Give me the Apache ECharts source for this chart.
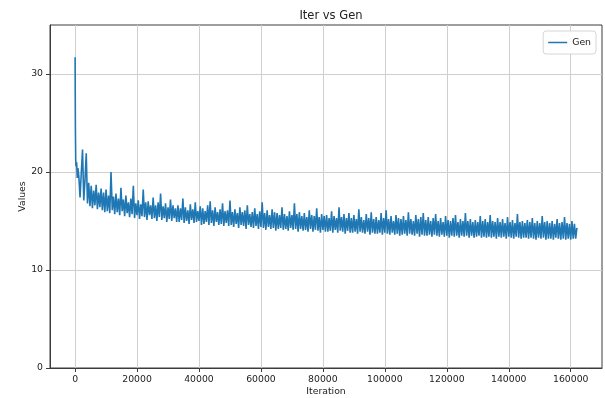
<!DOCTYPE html>
<html>
<head>
<meta charset="utf-8">
<script src="https://cdn.jsdelivr.net/npm/echarts@6/dist/echarts.min.js"></script>
<style>
html,body{margin:0;padding:0;background:#fff;}
#chart{width:605px;height:398px;}
</style>
</head>
<body>
<div id="chart"></div>
<script>
// ---- data ----
const titleText = 'Iter vs Gen';
const seriesName = 'Gen';
const xAxisName = 'Iteration';
const yAxisName = 'Values';
const xTicks = [0, 20000, 40000, 60000, 80000, 100000, 120000, 140000, 160000];
const yTicks = [0, 10, 20, 30];

// first iterations (explicit)
const earlyIters = [0, 100, 200, 300, 500, 700, 900];
const earlyGen = [31.7, 24.4, 21.3, 20.6, 21.0, 19.4, 20.4];

// remaining iterations, logged every 400 from 1200
const mainStart = 1200;
const mainStep = 400;
const mainGen = [
  19.6,17.4,19.9,22.3,17.1,19.2,21.9,16.8,18.9,16.5,18.6,16.3,18.1,16.6,18.7,16.2,17.9,16.4,18.3,16.1,
  17.9,15.9,18.2,16.0,17.6,15.8,20.0,16.1,17.5,15.7,17.8,15.9,17.3,15.6,18.4,16.0,17.2,15.5,17.6,15.8,
  16.9,15.4,17.3,15.7,18.6,15.3,16.8,15.6,17.1,15.2,16.7,15.5,18.2,15.4,16.9,15.1,17.0,15.6,16.6,15.2,
  17.4,15.3,16.6,15.0,16.9,15.4,17.8,15.1,16.5,15.3,16.8,14.9,16.4,15.2,17.2,15.0,16.6,15.3,16.3,14.9,
  16.6,14.9,16.3,15.1,17.3,14.8,16.4,15.0,16.1,14.7,16.7,15.1,16.2,14.8,16.9,14.9,16.0,15.0,16.5,14.6,
  16.3,14.7,16.0,14.9,16.6,14.6,17.0,14.8,16.1,14.5,16.4,14.9,15.9,14.6,16.2,14.7,16.8,14.5,16.0,14.8,
  16.1,14.5,17.1,14.6,15.9,14.4,16.2,14.7,15.8,14.3,16.4,14.6,15.9,14.5,16.1,14.2,16.6,14.6,15.7,14.4,
  15.9,14.3,16.3,14.5,15.7,14.2,16.0,14.4,16.9,14.3,15.8,14.1,16.1,14.4,15.6,14.2,16.2,14.3,15.9,14.0,
  15.8,14.2,15.6,14.3,16.4,14.1,15.7,14.2,15.5,14.0,16.0,14.3,15.6,14.1,16.8,14.2,15.7,13.9,15.9,14.2,
  15.5,14.0,15.8,14.1,15.4,13.9,16.1,14.2,15.6,13.9,15.5,14.1,16.3,14.0,15.4,13.8,15.7,14.1,15.5,13.9,
  15.6,13.9,15.3,14.0,16.0,13.8,15.5,14.1,15.3,13.8,16.4,14.0,15.4,13.9,15.7,13.7,15.3,14.0,15.8,13.8,
  15.3,13.8,15.6,13.9,15.2,13.7,16.2,13.9,15.4,13.8,15.1,13.7,15.7,13.9,15.3,13.6,15.9,13.8,15.2,13.7,
  15.4,13.7,15.1,13.8,15.8,13.6,15.3,13.8,16.1,13.7,15.2,13.6,15.5,13.8,15.0,13.6,15.6,13.7,15.3,13.5,
  15.2,13.6,15.5,13.7,15.1,13.5,15.9,13.7,15.2,13.6,15.0,13.5,15.6,13.7,15.2,13.4,15.4,13.6,15.8,13.5,
  15.1,13.5,15.4,13.6,15.0,13.4,15.3,13.6,15.7,13.5,15.0,13.4,15.3,13.6,14.9,13.4,15.5,13.5,15.1,13.3,
  15.0,13.5,15.3,13.4,15.6,13.5,14.9,13.3,15.2,13.5,15.0,13.4,15.8,13.5,15.0,13.3,15.2,13.5,14.9,13.3,
  15.1,13.4,14.9,13.5,15.5,13.3,15.0,13.4,15.2,13.3,14.9,13.4,15.6,13.3,15.0,13.4,14.9,13.2,15.3,13.4,
  14.9,13.3,15.2,13.4,14.8,13.2,15.4,13.4,14.9,13.3,15.1,13.2,14.8,13.4,15.7,13.3,14.9,13.2,15.0,13.3,
  14.8,13.3,15.1,13.2,14.9,13.3,15.3,13.2,14.8,13.1,15.0,13.3,14.8,13.2,15.5,13.3,14.9,13.1,15.0,13.2,
  14.8,13.2,15.0,13.1,14.7,13.3,15.2,13.2,14.8,13.1,14.9,13.2,15.4,13.1,14.8,13.2,14.7,13.1,15.0,13.2,
  14.7,13.2,14.3
];

// ---- build points ----
const points = [];
earlyIters.forEach((it, i) => points.push([it, earlyGen[i]]));
mainGen.forEach((v, i) => points.push([mainStart + i * mainStep, v]));

const FONT = 'DejaVu Sans';
const plain = v => String(v);
const chart = echarts.init(document.getElementById('chart'), null, {renderer: 'canvas'});
chart.setOption({
  animation: false,
  backgroundColor: '#ffffff',
  title: {
    text: titleText,
    left: 326, top: 5, textAlign: 'center',
    textStyle: {fontFamily: FONT, fontSize: 11.5, fontWeight: 'normal', color: '#222'}
  },
  legend: {
    data: [{name: seriesName, icon: 'rect'}],
    right: 9, top: 31,
    itemWidth: 19, itemHeight: 1.5, itemGap: 6,
    padding: [7, 5, 7, 5],
    backgroundColor: '#fff',
    borderColor: '#d6d6d6', borderWidth: 1, borderRadius: 3,
    textStyle: {fontFamily: FONT, fontSize: 9.3, color: '#222'}
  },
  grid: {
    left: 50, right: 3, top: 25, bottom: 30,
    outerBoundsMode: 'none', containLabel: false,
    show: true, borderColor: '#3c3c3c', borderWidth: 1, backgroundColor: 'transparent'
  },
  xAxis: {
    type: 'value',
    min: -8100, max: 170100,
    name: xAxisName, nameLocation: 'middle', nameGap: 19, nameMoveOverlap: false,
    nameTextStyle: {fontFamily: FONT, fontSize: 9.3, color: '#222'},
    axisLine: {show: true, onZero: false, lineStyle: {color: '#3c3c3c', width: 1}},
    axisTick: {show: true, length: 4, inside: false, customValues: xTicks, lineStyle: {color: '#3c3c3c'}},
    axisLabel: {customValues: xTicks, margin: 7, fontFamily: FONT, fontSize: 9.3, color: '#222', formatter: plain},
    splitLine: {show: true, lineStyle: {color: '#cfcfcf', width: 1}}
  },
  yAxis: {
    type: 'value',
    min: 0, max: 35,
    name: yAxisName, nameLocation: 'middle', nameGap: 23, nameRotate: 90, nameMoveOverlap: false,
    nameTextStyle: {fontFamily: FONT, fontSize: 9.3, color: '#222'},
    axisLine: {show: true, onZero: false, lineStyle: {color: '#3c3c3c', width: 1}},
    axisTick: {show: true, length: 4, customValues: yTicks, lineStyle: {color: '#3c3c3c'}},
    axisLabel: {customValues: yTicks, margin: 7, fontFamily: FONT, fontSize: 9.3, color: '#222', formatter: plain},
    splitLine: {show: true, lineStyle: {color: '#cfcfcf', width: 1}}
  },
  series: [{
    name: seriesName,
    type: 'line',
    data: points,
    symbol: 'none',
    showSymbol: false,
    sampling: null,
    lineStyle: {color: '#1f77b4', width: 1.6},
    itemStyle: {color: '#1f77b4'}
  }]
});
</script>
</body>
</html>
